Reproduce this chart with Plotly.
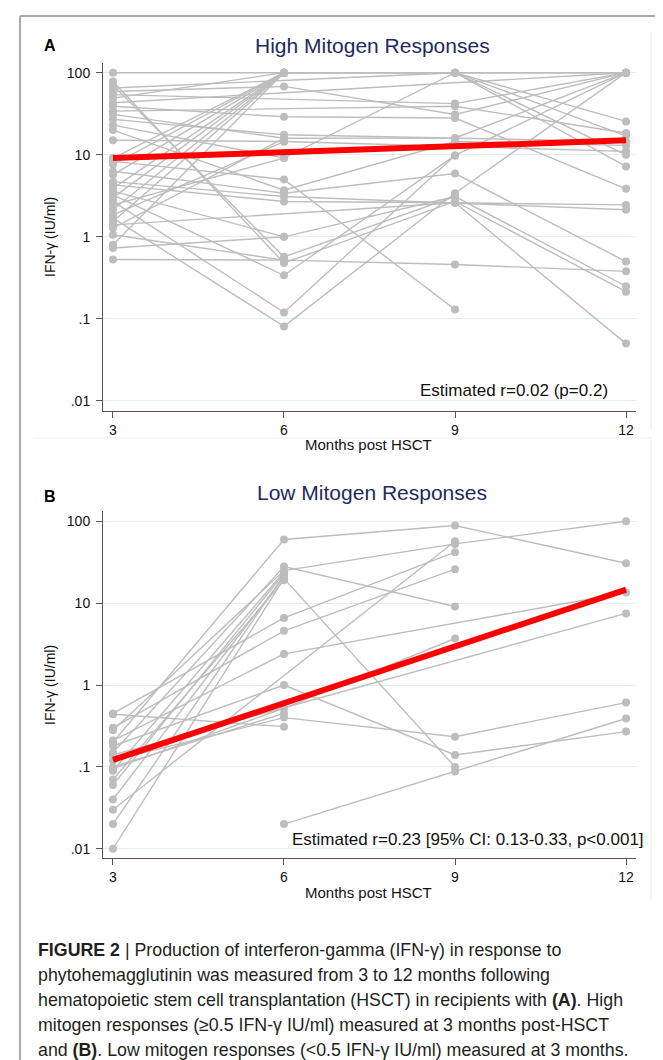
import plotly.graph_objects as go

# ---------------- data ----------------
months = [3, 6, 9, 12]

# Panel A: high mitogen responders, IFN-g (IU/ml) at 3, 6, 9, 12 months (None = not measured)
high_subjects = [
    [100, 100, 100, 100],
    [78, 0.48, 2.7, 0.215],
    [71, 0.57, 3.1, 0.25],
    [65, None, 100, 17],
    [59, 68, 31, 100],
    [54, None, 42, 100],
    [49, 100, 100, 25.5],
    [43, None, None, 100],
    [39, 29, 28, 3.85],
    [34, None, 39, 18.4],
    [31, 15.9, 16, 100],
    [27, 17.5, None, 14.5],
    [23, 9.1, 100, 7.2],
    [20, 3.7, 14.5, 13],
    [15, 14.5, None, 11],
    [9.1, 100, None, 100],
    [8.3, 5.0, 0.13, None],
    [7.6, 100, 100, 10],
    [6.3, 3.4, 5.9, 0.50],
    [5.7, 100, None, None],
    [4.7, 3.1, None, 2.14],
    [4.3, 2.7, 2.6, 2.45],
    [3.9, 100, None, None],
    [3.6, 1.0, 3.1, None],
    [3.25, 0.34, 9.8, 100],
    [3.0, 100, None, None],
    [2.7, 0.12, 9.8, None],
    [2.45, 9.1, None, None],
    [2.14, 100, None, None],
    [1.85, 14.5, None, None],
    [1.69, 0.081, 3.4, 100],
    [1.54, 100, None, None],
    [1.4, None, 2.6, 0.05],
    [1.28, 15.9, None, None],
    [1.06, 0.52, None, None],
    [0.80, 100, None, None],
    [0.73, 1.0, None, None],
    [0.53, 0.52, 0.46, 0.38],
]

# Panel B: low mitogen responders
low_subjects = [
    [0.20, 60, 89, 30.7],
    [0.28, 25, 53, 100],
    [0.15, 28, 9.1, None],
    [0.01, 20, 0.10, None],
    [0.45, 6.6, 42, None],
    [0.30, 4.6, 26, None],
    [0.21, 2.4, None, 13.5],
    [0.18, 1.0, 0.14, 0.27],
    [0.12, 0.40, 0.234, 0.61],
    [0.095, 0.52, 3.7, None],
    [None, 0.02, 0.088, 0.39],
    [0.44, 0.31, None, None],
    [0.03, None, 57, None],
    [0.14, None, None, 7.5],
    [0.02, 22, None, None],
    [0.04, 21, None, None],
    [0.06, 23, None, None],
    [0.07, 19, None, None],
    [0.09, 24, None, None],
    [0.10, 0.45, None, None],
]

fit_months = [3, 12]
high_fit = [9.1, 15.0]
low_fit = [0.122, 14.6]

ytick_vals = [0.01, 0.1, 1, 10, 100]
ytick_text = [".01", ".1", "1", "10", "100"]
xtick_vals = [3, 6, 9, 12]

panel_titles = ["High Mitogen Responses", "Low Mitogen Responses"]
panel_letters = ["A", "B"]
notes = ["Estimated r=0.02 (p=0.2)",
         "Estimated r=0.23 [95% CI: 0.13-0.33, p&lt;0.001]"]
caption_lines = [
    "<b>FIGURE 2</b> | Production of interferon-gamma (IFN-γ) in response to",
    "phytohemagglutinin was measured from 3 to 12 months following",
    "hematopoietic stem cell transplantation (HSCT) in recipients with <b>(A)</b>. High",
    "mitogen responses (≥0.5 IFN-γ IU/ml) measured at 3 months post-HSCT",
    "and <b>(B)</b>. Low mitogen responses (&lt;0.5 IFN-γ IU/ml) measured at 3 months.",
]

# ---------------- figure ----------------
W, H = 663, 1060
FONT = "Liberation Sans, Arial, sans-serif"
GRAY = "#BDBDBD"
AXC = "#555555"


def px(x):
    return x / W


def py(y):
    return 1 - y / H


fig = go.Figure()

panels = [
    dict(subjects=high_subjects, fit=high_fit, xa="x", ya="y",
         top=55, bottom=403, yr=[-2.122, 2.118]),
    dict(subjects=low_subjects, fit=low_fit, xa="x2", ya="y2",
         top=503, bottom=850, yr=[-2.113, 2.126]),
]

for p in panels:
    for s in p["subjects"]:
        xs = [m for m, v in zip(months, s) if v is not None]
        ys = [v for v in s if v is not None]
        fig.add_trace(go.Scatter(
            x=xs, y=ys, mode="lines+markers", xaxis=p["xa"], yaxis=p["ya"],
            line=dict(color=GRAY, width=1.4),
            marker=dict(color=GRAY, size=8, line=dict(width=0)),
            showlegend=False, hoverinfo="skip"))
    fig.add_trace(go.Scatter(
        x=fit_months, y=p["fit"], mode="lines", xaxis=p["xa"], yaxis=p["ya"],
        line=dict(color="#FF0000", width=6), showlegend=False, hoverinfo="skip"))

x_left, x_right = 95, 628
xaxis_common = dict(
    domain=[px(x_left), px(x_right)], range=[2.825, 12.175],
    tickvals=xtick_vals, ticks="outside", ticklen=6, tickcolor=AXC,
    showline=True, linecolor=AXC, linewidth=1, showgrid=False, zeroline=False,
    tickfont=dict(family=FONT, size=14, color="#111111"), fixedrange=True)


def yaxis_common(p, anchor):
    return dict(
        domain=[py(p["bottom"]), py(p["top"])], type="log", range=p["yr"],
        tickvals=ytick_vals, ticktext=ytick_text, ticks="outside", ticklen=6,
        tickcolor=AXC, showline=True, linecolor=AXC, linewidth=1,
        showgrid=True, gridcolor="#E3EEF0", gridwidth=1, zeroline=False,
        anchor=anchor, ticklabelstandoff=3,
        tickfont=dict(family=FONT, size=14, color="#111111"),
        fixedrange=True)


fig.update_layout(
    width=W, height=H, autosize=False,
    margin=dict(l=0, r=0, t=0, b=0),
    paper_bgcolor="white", plot_bgcolor="white",
    xaxis=dict(**xaxis_common, anchor="y"),
    yaxis=yaxis_common(panels[0], "x"),
    xaxis2=dict(**xaxis_common, anchor="y2"),
    yaxis2=yaxis_common(panels[1], "x2"),
)

ann = []
title_y = [37, 485]
letter_y = [37, 489]
xtitle_y = [437, 884]
ytitle_c = [229, 677]
note_pos = [(602, 382), (638, 831)]
for i in range(2):
    ann.append(dict(text="<b>" + panel_letters[i] + "</b>", x=px(42), y=py(letter_y[i]),
                    xref="paper", yref="paper", showarrow=False,
                    xanchor="center", yanchor="middle",
                    font=dict(family=FONT, size=16, color="black")))
    ann.append(dict(text=panel_titles[i], x=px(364), y=py(title_y[i]), xref="paper", yref="paper",
                    showarrow=False, xanchor="center", yanchor="middle",
                    font=dict(family=FONT, size=21, color="#1E2B5E")))
    ann.append(dict(text="Months post HSCT", x=px(360), y=py(xtitle_y[i]), xref="paper", yref="paper",
                    showarrow=False, xanchor="center", yanchor="middle",
                    font=dict(family=FONT, size=15, color="#111111")))
    ann.append(dict(text="IFN-γ (IU/ml)", x=px(42), y=py(ytitle_c[i]), xref="paper", yref="paper",
                    showarrow=False, xanchor="center", yanchor="middle", textangle=-90,
                    font=dict(family=FONT, size=14, color="#111111")))
    ann.append(dict(text=notes[i], x=px(note_pos[i][0]), y=py(note_pos[i][1]), xref="paper", yref="paper",
                    showarrow=False, xanchor="right", yanchor="middle",
                    font=dict(family=FONT, size=17, color="#111111")))

cap_y = [942, 967, 992, 1017, 1042]
for line, yy in zip(caption_lines, cap_y):
    ann.append(dict(text=line, x=px(28), y=py(yy), xref="paper", yref="paper",
                    showarrow=False, xanchor="left", yanchor="middle",
                    font=dict(family=FONT, size=17.8, color="#231F20")))

fig.update_layout(annotations=ann)

shapes = []
frame = "#AAAAAA"
faint = "#F0F2F3"
# outer frame
shapes.append(dict(type="line", xref="paper", yref="paper", x0=px(12), x1=px(12), y0=py(8), y1=0,
                   line=dict(color=frame, width=2)))
shapes.append(dict(type="line", xref="paper", yref="paper", x0=px(12), x1=px(661), y0=py(8), y1=py(8),
                   line=dict(color=frame, width=2)))
shapes.append(dict(type="line", xref="paper", yref="paper", x0=px(661), x1=px(661), y0=py(8), y1=0,
                   line=dict(color=frame, width=2)))
# graph region edges (faint)
shapes.append(dict(type="line", xref="paper", yref="paper", x0=px(643), x1=px(643), y0=py(23), y1=py(422),
                   line=dict(color=faint, width=1.5)))
shapes.append(dict(type="line", xref="paper", yref="paper", x0=px(25), x1=px(643), y0=py(430), y1=py(430),
                   line=dict(color=faint, width=1.5)))
shapes.append(dict(type="line", xref="paper", yref="paper", x0=px(643), x1=px(643), y0=py(430), y1=py(892),
                   line=dict(color=faint, width=1.5)))
fig.update_layout(shapes=shapes)

fig.write_html("out.html")
